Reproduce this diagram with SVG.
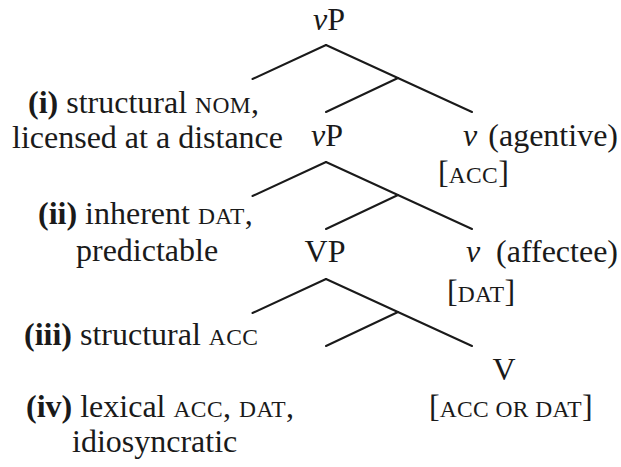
<svg xmlns="http://www.w3.org/2000/svg" width="621" height="467" viewBox="0 0 621 467">
<style>
text{font-family:"Liberation Serif","Times New Roman",serif;font-size:32px;fill:#1a1a1a}
.sc{font-size:23.5px;letter-spacing:0.4px}
.b{font-weight:bold}
.i{font-style:italic}
.m{text-anchor:middle}
.e{text-anchor:end}
line{stroke:#1a1a1a;stroke-width:2;stroke-linecap:round}
</style>
<rect width="621" height="467" fill="#ffffff"/>
<g id="connectors">
<line x1="326" y1="45" x2="252.5" y2="79"/>
<line x1="326" y1="45" x2="472" y2="112"/>
<line x1="398" y1="78" x2="326" y2="112"/>
<line x1="326" y1="162" x2="252.5" y2="196"/>
<line x1="326" y1="162" x2="472" y2="229"/>
<line x1="398" y1="195" x2="326" y2="229"/>
<line x1="326" y1="279" x2="252.5" y2="313"/>
<line x1="326" y1="279" x2="472" y2="346"/>
<line x1="398" y1="312" x2="326" y2="346"/>
</g>
<g id="vP-top"><text class="m" x="329" y="30"><tspan class="i">v</tspan>P</text></g>
<g id="label-i">
<text x="28" y="113"><tspan class="b">(i)</tspan> structural <tspan class="sc">NOM</tspan>,</text>
<text x="12" y="148">licensed at a distance</text>
</g>
<g id="vP-mid"><text class="m" x="327" y="146"><tspan class="i">v</tspan>P</text></g>
<g id="v-agentive">
<text x="463" y="146"><tspan class="i">v</tspan></text>
<text class="e" x="618" y="146">(agentive)</text>
<text x="438" y="183">[<tspan class="sc">ACC</tspan>]</text>
</g>
<g id="label-ii">
<text x="38" y="224"><tspan class="b">(ii)</tspan> inherent <tspan class="sc">DAT</tspan>,</text>
<text x="76" y="261">predictable</text>
</g>
<g id="VP"><text class="m" x="325" y="262">VP</text></g>
<g id="v-affectee">
<text x="466" y="262"><tspan class="i">v</tspan></text>
<text class="e" x="618" y="262">(affectee)</text>
<text x="447" y="302">[<tspan class="sc">DAT</tspan>]</text>
</g>
<g id="label-iii">
<text x="24" y="345"><tspan class="b">(iii)</tspan> structural <tspan class="sc">ACC</tspan></text>
</g>
<g id="V">
<text class="m" x="504" y="380">V</text>
<text x="429" y="417">[<tspan class="sc">ACC OR DAT</tspan>]</text>
</g>
<g id="label-iv">
<text x="26" y="417"><tspan class="b">(iv)</tspan> lexical <tspan class="sc">ACC</tspan>, <tspan class="sc">DAT</tspan>,</text>
<text x="72" y="452">idiosyncratic</text>
</g>
</svg>
